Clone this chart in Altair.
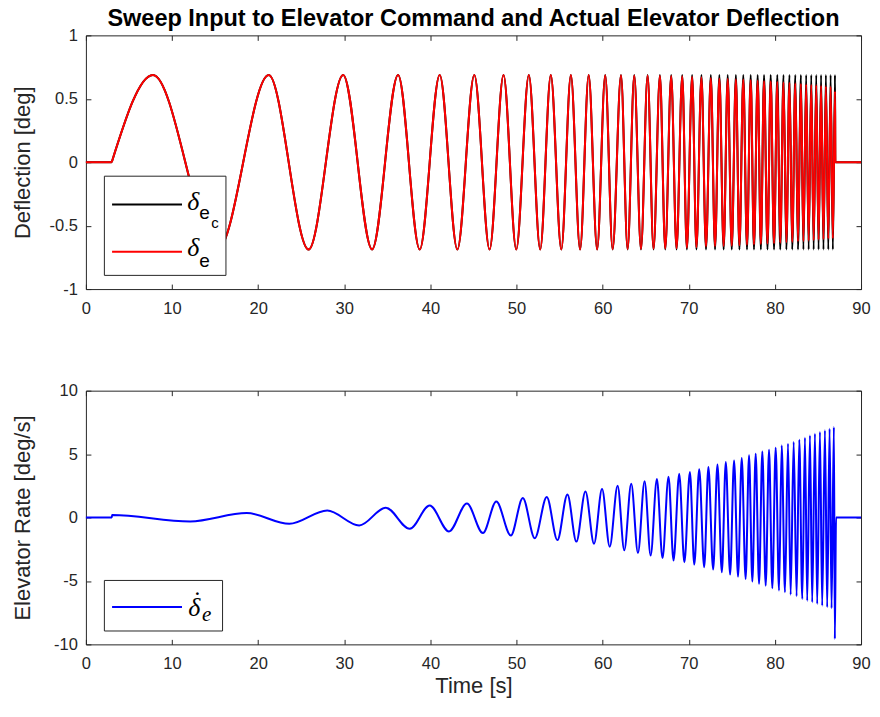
import altair as alt
import pandas as pd

# ---------------- data ----------------
TITLE = "Sweep Input to Elevator Command and Actual Elevator Deflection"
x_ticks = [0, 10, 20, 30, 40, 50, 60, 70, 80, 90]
defl_ticks = [-1, -0.5, 0, 0.5, 1]
rate_ticks = [-10, -5, 0, 5, 10]

# flat part before the sweep starts
pre_t = [0.0, 3.0]
pre_v = [0.0, 0.0]

# sweep: start, then the times of every peak / trough, then the stop
sweep_t = [3.0, 7.79, 15.3, 21.23, 25.86, 29.87, 33.23, 36.25, 38.76, 41.08,
           43.13, 45.10, 46.87, 48.49, 49.97, 51.43, 52.75, 53.98, 55.20, 56.31,
           57.38, 58.38, 59.36, 60.30, 61.16, 62.13, 62.90, 63.67, 64.45, 65.22,
           65.91, 66.65, 67.27, 67.96, 68.58, 69.24, 69.78, 70.39, 70.89, 71.47,
           72.00, 72.56, 73.05, 73.55, 74.05, 74.52, 74.99, 75.47, 75.88, 76.33,
           76.76, 77.19, 77.57, 78.00, 78.37, 78.74, 79.14, 79.51, 79.90, 80.28,
           80.62, 81.00, 81.33, 81.69, 82.01, 82.37, 82.68, 83.02, 83.31, 83.63,
           83.92, 84.22, 84.50, 84.80, 85.07, 85.36, 85.64, 85.92, 86.20, 86.47,
           86.73, 86.98, 87.02, 90.0]

# commanded deflection at those times [deg]
cmd_v = [0.0,
         0.688, -0.688, 0.688, -0.688, 0.688, -0.688, 0.688, -0.688, 0.688, -0.688,
         0.688, -0.688, 0.688, -0.688, 0.688, -0.688, 0.688, -0.688, 0.688, -0.688,
         0.688, -0.688, 0.688, -0.688, 0.688, -0.688, 0.688, -0.688, 0.688, -0.688,
         0.688, -0.688, 0.688, -0.688, 0.688, -0.688, 0.688, -0.688, 0.688, -0.688,
         0.688, -0.688, 0.688, -0.688, 0.688, -0.688, 0.688, -0.688, 0.688, -0.688,
         0.688, -0.688, 0.688, -0.688, 0.688, -0.688, 0.688, -0.688, 0.688, -0.688,
         0.688, -0.688, 0.688, -0.688, 0.688, -0.688, 0.688, -0.688, 0.688, -0.688,
         0.688, -0.688, 0.688, -0.688, 0.688, -0.688, 0.688, -0.688, 0.688, -0.688,
         0.688, 0.0, 0.0]

# actual deflection at those times [deg]
act_v = [0.0,
         0.688, -0.688, 0.688, -0.688, 0.688, -0.688, 0.688, -0.688, 0.688, -0.688,
         0.688, -0.688, 0.688, -0.688, 0.688, -0.688, 0.688, -0.688, 0.688, -0.688,
         0.688, -0.688, 0.686, -0.686, 0.685, -0.685, 0.684, -0.684, 0.683, -0.682,
         0.681, -0.680, 0.679, -0.678, 0.677, -0.675, 0.674, -0.670, 0.670, -0.664,
         0.664, -0.662, 0.659, -0.660, 0.657, -0.658, 0.655, -0.655, 0.652, -0.651,
         0.648, -0.648, 0.644, -0.645, 0.641, -0.641, 0.638, -0.638, 0.634, -0.635,
         0.630, -0.631, 0.626, -0.628, 0.623, -0.625, 0.619, -0.622, 0.615, -0.619,
         0.611, -0.615, 0.608, -0.612, 0.604, -0.608, 0.600, -0.604, 0.596, -0.601,
         0.56, 0.0, 0.0]

# elevator rate: times of its peaks / troughs and their values [deg/s]
rate_t = [0.0, 3.0, 3.05, 12.1, 18.68, 23.62, 28.02, 31.73, 34.82, 37.6,
          39.92, 42.16, 44.24, 46.1, 47.65, 49.34, 50.73, 52.12, 53.51, 54.75,
          55.91, 56.95, 58.0, 59.0, 59.93, 60.82, 61.74, 62.51, 63.32, 64.1,
          64.87, 65.57, 66.3, 66.95, 67.65, 68.23, 68.89, 69.49, 70.13, 70.64,
          71.21, 71.79, 72.28, 72.83, 73.33, 73.84, 74.3, 74.8, 75.26, 75.72,
          76.15, 76.6, 77.0, 77.38, 77.77, 78.16, 78.54, 78.93, 79.32, 79.7,
          80.09, 80.48, 80.79, 81.17, 81.52, 81.83, 82.18, 82.52, 82.83, 83.18,
          83.49, 83.75, 84.07, 84.33, 84.65, 84.91, 85.23, 85.49, 85.81, 86.07,
          86.35, 86.58, 86.85, 86.96, 87.1, 90.0]
rate_v = [0.0, 0.0, 0.2, -0.31, 0.35, -0.50, 0.55, -0.63, 0.77, -0.89,
          0.95, -1.1, 1.1, -1.23, 1.26, -1.42, 1.53, -1.63, 1.61, -1.78,
          1.82, -1.9, 2.05, -2.07, 2.24, -2.3, 2.5, -2.58, 2.66, -2.79,
          2.86, -3.0, 3.03, -3.2, 3.22, -3.39, 3.45, -3.52, 3.58, -3.71,
          3.8, -3.92, 3.98, -4.1, 4.18, -4.31, 4.37, -4.5, 4.5, -4.66,
          4.69, -4.84, 4.9, -5.05, 5.03, -5.23, 5.21, -5.37, 5.34, -5.57,
          5.5, -5.76, 5.68, -5.89, 5.82, -6.08, 5.95, -6.2, 6.13, -6.42,
          6.29, -6.57, 6.47, -6.68, 6.6, -6.81, 6.74, -6.95, 6.87, -7.07,
          7.0, -7.15, 7.13, -9.57, 0.0, 0.0]

# ---------------- layout / style ----------------
W, H = 776, 254
FONT = "Liberation Sans"
SERIF = "Liberation Serif"
TXT = "#262626"


def series_df(values):
    rows = [{"t": t, "v": v, "seg": "pre"} for t, v in zip(pre_t, pre_v)]
    rows += [{"t": t, "v": v, "seg": "sweep"} for t, v in zip(sweep_t, values)]
    return pd.DataFrame(rows)


cmd_df = series_df(cmd_v)
act_df = series_df(act_v)
rate_df = pd.DataFrame({"t": rate_t, "v": rate_v, "seg": "all"})
one = pd.DataFrame({"k": [0]})

xscale = alt.Scale(domain=[0, 90], nice=False, zero=False)


def x_main(title):
    return alt.X("t:Q", scale=xscale, axis=alt.Axis(
        orient="bottom", offset=-H, values=x_ticks, labelExpr="'' + datum.value",
        labelPadding=H + 6, tickSize=5, labelFlush=False, labelOverlap=False,
        title=title, titleBaseline="alphabetic", titleY=H + 48, titleX=W / 2))


x_inner = alt.X("t:Q", scale=xscale, axis=alt.Axis(
    orient="top", offset=-H, values=x_ticks, labels=False, tickSize=5, title=None))


def y_main(domain, ticks, title):
    return alt.Y("v:Q", scale=alt.Scale(domain=domain, nice=False, zero=False),
                 axis=alt.Axis(orient="left", offset=-W, values=ticks,
                               labelExpr="'' + datum.value", labelPadding=W + 3.5,
                               tickSize=5, labelOverlap=False, labelFlush=False,
                               title=title, titleBaseline="middle", titleAngle=270,
                               titleX=-(W + 63.5), titleY=H / 2))


def y_inner(domain, ticks):
    return alt.Y("v:Q", scale=alt.Scale(domain=domain, nice=False, zero=False),
                 axis=alt.Axis(orient="right", offset=-W, values=ticks,
                               labels=False, tickSize=5, title=None))


def plain_x():
    return alt.X("t:Q", scale=xscale, axis=None)


def plain_y(domain):
    return alt.Y("v:Q", scale=alt.Scale(domain=domain, nice=False, zero=False), axis=None)


def legend_text(txt, x, y, size, font=FONT, style="normal", align="left"):
    return alt.Chart(one).mark_text(
        text=txt, font=font, fontSize=size, fontStyle=style, align=align,
        baseline="alphabetic", color="#000").encode(x=alt.value(x), y=alt.value(y))


# ---------------- top panel ----------------
D1 = [-1, 1]
cmd_line = alt.Chart(cmd_df).mark_line(interpolate="monotone", color="#000000", strokeWidth=2).encode(
    x=x_main(None), y=y_main(D1, defl_ticks, "Deflection [deg]"), detail="seg:N")
act_line = alt.Chart(act_df).mark_line(interpolate="monotone", color="#ff0000", strokeWidth=2).encode(
    x=plain_x(), y=plain_y(D1), detail="seg:N")
frame1 = alt.Chart(cmd_df).mark_line(opacity=0).encode(
    x=x_inner, y=y_inner(D1, defl_ticks), detail="seg:N")

leg1_box = alt.Chart(one).mark_rect(fill="white", stroke=TXT, strokeWidth=1).encode(
    x=alt.value(18.5), x2=alt.value(140.2), y=alt.value(141), y2=alt.value(240.3))
leg1_k = alt.Chart(one).mark_rule(color="#000000", strokeWidth=2).encode(
    x=alt.value(26.2), x2=alt.value(96.2), y=alt.value(169.3))
leg1_r = alt.Chart(one).mark_rule(color="#ff0000", strokeWidth=2).encode(
    x=alt.value(26.2), x2=alt.value(96.2), y=alt.value(216.6))

top = alt.layer(
    cmd_line, act_line, frame1, leg1_box, leg1_k, leg1_r,
    legend_text("δ", 101.5, 175, 26, SERIF, "italic"),
    legend_text("e", 113.5, 184.3, 19),
    legend_text("c", 125.5, 192.6, 15),
    legend_text("δ", 101.5, 221.3, 26, SERIF, "italic"),
    legend_text("e", 113.5, 232.3, 19),
).properties(width=W, height=H, title=alt.TitleParams(
    TITLE, font=FONT, fontSize=23.5, fontWeight="bold", color="#000000",
    anchor="middle", frame="group", baseline="alphabetic", offset=-22))

# ---------------- bottom panel ----------------
D2 = [-10, 10]
rate_line = alt.Chart(rate_df).mark_line(interpolate="monotone", color="#0000ff", strokeWidth=2).encode(
    x=x_main("Time [s]"), y=y_main(D2, rate_ticks, "Elevator Rate [deg/s]"), detail="seg:N")
frame2 = alt.Chart(rate_df).mark_line(opacity=0).encode(
    x=x_inner, y=y_inner(D2, rate_ticks), detail="seg:N")
leg2_box = alt.Chart(one).mark_rect(fill="white", stroke=TXT, strokeWidth=1).encode(
    x=alt.value(18.5), x2=alt.value(136.8), y=alt.value(190), y2=alt.value(240.6))
leg2_b = alt.Chart(one).mark_rule(color="#0000ff", strokeWidth=2).encode(
    x=alt.value(26.2), x2=alt.value(96.2), y=alt.value(216.6))

bottom = alt.layer(
    rate_line, frame2, leg2_box, leg2_b,
    legend_text("δ", 102.5, 225.3, 26, SERIF, "italic"),
    legend_text("\u02d9", 111.5, 219, 26, SERIF, "normal", "center"),
    legend_text("e", 116.2, 231, 21, SERIF, "italic"),
).properties(width=W, height=H)

chart = alt.vconcat(top, bottom, spacing=101.7, bounds="flush").properties(
    padding={"left": 11, "top": 6, "right": 9, "bottom": 10}
).configure_view(stroke=TXT, strokeWidth=1).configure_axis(
    domain=False, grid=False, tickColor=TXT, tickWidth=1,
    labelFont=FONT, labelFontSize=16.5, labelColor=TXT,
    titleFont=FONT, titleFontSize=22, titleColor=TXT, titleFontWeight="normal")

chart.save("out.html", embed_options={"renderer": "svg", "actions": False})
